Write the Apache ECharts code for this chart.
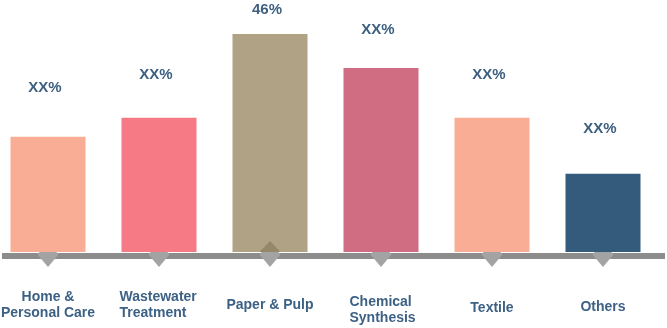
<!DOCTYPE html>
<html><head><meta charset="utf-8">
<script src="https://cdn.jsdelivr.net/npm/echarts@6/dist/echarts.min.js"></script>
<style>html,body{margin:0;padding:0;background:#fff}#c{width:667px;height:328px}</style>
</head><body><div id="c"></div>
<script>
var categories = ['Home &\nPersonal Care', 'Wastewater\nTreatment', 'Paper & Pulp', 'Chemical\nSynthesis', 'Textile', 'Others'];
var values = [24.3, 28.3, 46, 38.8, 28.3, 16.5];
var valueLabels = ['XX%', 'XX%', '46%', 'XX%', 'XX%', 'XX%'];
var barColors = ['#f9ad94', '#f67a85', '#b0a284', '#d06d83', '#f9ad94', '#345b7c'];
var highlight = [false, false, true, false, false, false];

// layout tweaks (not data)
var labelDistance = [41, 35, 17, 31, 35, 37];
var catLabelNudge = [0, 0, 8, 5, 11, 10];
var catLabelBox = [0, 79, 0, 63, 0, 0];

var catFont = {color: '#3d6185', fontFamily: 'Liberation Sans', fontWeight: 'bold', fontSize: 14, lineHeight: 16};
var rich = {};
catLabelBox.forEach(function (w, i) {
  if (w) rich['l' + i] = Object.assign({width: w, align: 'left'}, catFont);
});

var chart = echarts.init(document.getElementById('c'));
var blue = '#3d5f80';
chart.setOption({
  animation: false,
  grid: [
    {left: 48, right: 64, top: 15, bottom: 76, outerBoundsMode: 'none', containLabel: false},
    {left: 2, right: 2, top: 15, bottom: 72, outerBoundsMode: 'none', containLabel: false}
  ],
  xAxis: [
    {
      type: 'category', gridIndex: 0, boundaryGap: false,
      data: categories.map(function (c, i) {
        return {value: c, textStyle: {padding: [catLabelNudge[i], 0, 0, 0]}};
      }),
      axisLine: {show: false}, axisTick: {show: false}, splitLine: {show: false},
      axisLabel: Object.assign({
        interval: 0, margin: 37,
        formatter: function (v, i) {
          if (!catLabelBox[i]) return v;
          return v.split('\n').map(function (s) { return '{l' + i + '|' + s + '}'; }).join('\n');
        },
        rich: rich
      }, catFont)
    },
    {
      type: 'value', gridIndex: 1, min: 0, max: 1,
      axisLine: {show: true, lineStyle: {color: '#8c8c8c', width: 6, cap: 'butt'}},
      axisTick: {show: false}, axisLabel: {show: false}, splitLine: {show: false}
    }
  ],
  yAxis: [
    {type: 'value', gridIndex: 0, min: 0, max: 50, show: false, splitLine: {show: false}},
    {type: 'value', gridIndex: 1, min: 0, max: 1, show: false, splitLine: {show: false}}
  ],
  series: [
    {
      type: 'scatter', xAxisIndex: 0, yAxisIndex: 0, z: 1,
      symbol: 'diamond', symbolSize: [21, 25], symbolOffset: [0, 2.5],
      itemStyle: {color: '#a3a3a3', opacity: 1},
      data: values.map(function () { return 0; }),
      silent: true
    },
    {
      type: 'bar', xAxisIndex: 0, yAxisIndex: 0, z: 3, barWidth: 75,
      data: values.map(function (v, i) {
        return {
          value: v,
          itemStyle: {color: barColors[i]},
          label: {distance: labelDistance[i]}
        };
      }),
      label: {
        show: true, position: 'top', offset: [-3, 0],
        color: blue, fontFamily: 'Liberation Sans', fontWeight: 'bold', fontSize: 15,
        formatter: function (p) { return valueLabels[p.dataIndex]; }
      }
    },
    {
      type: 'scatter', xAxisIndex: 0, yAxisIndex: 0, z: 4,
      symbol: 'triangle', symbolSize: [21, 11], symbolOffset: [0, -5.5],
      itemStyle: {color: '#8f8262'},
      data: values.map(function (v, i) { return highlight[i] ? 0 : '-'; }),
      silent: true
    }
  ]
});
</script></body></html>
